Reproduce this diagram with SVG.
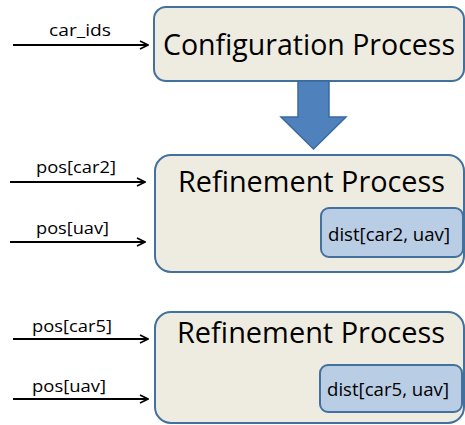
<svg xmlns="http://www.w3.org/2000/svg" width="465" height="425" viewBox="0 0 465 425">
<style>
.box{fill:#eeece1;stroke:#41719c;stroke-width:2}
.inner{fill:#b9cde5;stroke:#41719c;stroke-width:2}
.big{font-family:"Open Sans","Liberation Sans",sans-serif;font-size:29px;fill:#000}
.mid{font-family:"Open Sans","Liberation Sans",sans-serif;font-size:18px;fill:#000}
.lbl{font-family:"Open Sans","Liberation Sans",sans-serif;font-size:17px;fill:#000}
.conn{stroke:#000;stroke-width:2;fill:none;marker-end:url(#ah)}
</style>
<defs>
<marker id="ah" viewBox="0 0 10 10" refX="9" refY="5" markerWidth="5" markerHeight="5" orient="auto" markerUnits="strokeWidth">
<path d="M1,1 L9,5 L1,9" fill="none" stroke="#000" stroke-width="1.6"/>
</marker>
</defs>
<rect width="465" height="425" fill="#fff"/>
<g id="config">
<rect class="box" x="154" y="7" width="310" height="74" rx="12"/>
<text class="big" x="163" y="55" textLength="292" lengthAdjust="spacingAndGlyphs">Configuration Process</text>
</g>
<g id="refine1">
<rect class="box" x="155" y="155" width="309" height="117" rx="16"/>
<text class="big" x="178" y="192" textLength="267" lengthAdjust="spacingAndGlyphs">Refinement Process</text>
<g id="dist1">
<rect class="inner" x="321" y="208" width="142" height="49" rx="8"/>
<text class="mid" x="328" y="241" textLength="122" lengthAdjust="spacingAndGlyphs">dist[car2, uav]</text>
</g>
</g>
<g id="refine2">
<rect class="box" x="155" y="312" width="309" height="111" rx="16"/>
<text class="big" x="177" y="343" textLength="268" lengthAdjust="spacingAndGlyphs">Refinement Process</text>
<g id="dist2">
<rect class="inner" x="320" y="365" width="142" height="47" rx="8"/>
<text class="mid" x="327" y="396" textLength="122" lengthAdjust="spacingAndGlyphs">dist[car5, uav]</text>
</g>
</g>
<g id="connectors">
<line class="conn" x1="13" y1="45" x2="148" y2="45"/>
<line class="conn" x1="10" y1="182" x2="145" y2="182"/>
<line class="conn" x1="10" y1="242" x2="145" y2="242"/>
<line class="conn" x1="13" y1="339" x2="148" y2="339"/>
<line class="conn" x1="13" y1="399" x2="148" y2="399"/>
<path id="blockarrow" d="M298,81 L329,81 L329,117 L346,117 L313.5,149 L281,117 L298,117 Z" fill="#4f81bd" stroke="#3a6a9e" stroke-width="1.5"/>
</g>
<g id="labels">
<text class="lbl" x="49" y="36" textLength="62" lengthAdjust="spacingAndGlyphs">car_ids</text>
<text class="lbl" x="36" y="173" textLength="80" lengthAdjust="spacingAndGlyphs">pos[car2]</text>
<text class="lbl" x="36" y="234" textLength="73" lengthAdjust="spacingAndGlyphs">pos[uav]</text>
<text class="lbl" x="32" y="332" textLength="80" lengthAdjust="spacingAndGlyphs">pos[car5]</text>
<text class="lbl" x="32" y="392" textLength="74" lengthAdjust="spacingAndGlyphs">pos[uav]</text>
</g>
</svg>
